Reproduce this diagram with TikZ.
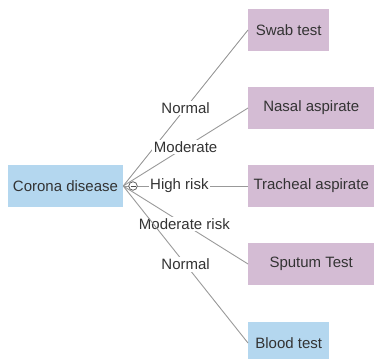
\documentclass[tikz,border=0pt]{standalone}
\usepackage{fontspec}
\setmainfont{Liberation Sans}
\begin{document}
\begin{tikzpicture}[x=1pt,y=-1pt,
  boxbase/.style={draw=none,inner sep=0pt,minimum height=42pt,text=black!80,font=\fontsize{15}{17}\selectfont},
  rootbox/.style={boxbase,fill=blueA,minimum width=115pt},
  leafp/.style={boxbase,fill=purpleA,anchor=west},
  leafb/.style={boxbase,fill=blueA,anchor=west},
  conn/.style={draw=gray!80,line width=0.9pt},
  lab/.style={fill=white,inner sep=1.5pt,text=black!80,font=\fontsize{15}{17}\selectfont}
]
\definecolor{blueA}{HTML}{B4D7EF}
\definecolor{purpleA}{HTML}{D4BCD4}
\useasboundingbox (0,0) rectangle (374,358);
\begin{scope}
\clip (0,0) rectangle (374,358);
\node[rootbox] (root) at (65.5,186) {Corona disease};
\node[leafp,minimum width=81pt] (swab) at (248,30) {Swab test};
\node[leafp,minimum width=126pt] (nasal) at (248,108) {Nasal aspirate};
\node[leafp,minimum width=126pt] (trach) at (248,186) {Tracheal aspirate};
\node[leafp,minimum width=126pt] (sput) at (248,264) {Sputum Test};
\node[leafb,minimum width=81pt] (blood) at (248,343) {Blood test};
\coordinate (o) at (root.east);
\draw[conn] (o) -- (swab.west) node[lab,pos=0.5] {Normal};
\draw[conn] (o) -- (nasal.west) node[lab,pos=0.5] {Moderate};
\draw[conn] (o) -- (trach.west) node[lab,pos=0.45] {High risk};
\draw[conn] (o) -- (sput.west) node[lab,pos=0.49] {Moderate risk};
\draw[conn] (o) -- (blood.west) node[lab,pos=0.5] {Normal};
\node[circle,draw=black!70,fill=white,line width=0.7pt,minimum size=8.5pt,inner sep=0pt] (tog) at (133,186) {};
\draw[black!70,line width=0.7pt] ([xshift=-2.5pt]tog.center) -- ([xshift=2.5pt]tog.center);
\end{scope}
\end{tikzpicture}
\end{document}
